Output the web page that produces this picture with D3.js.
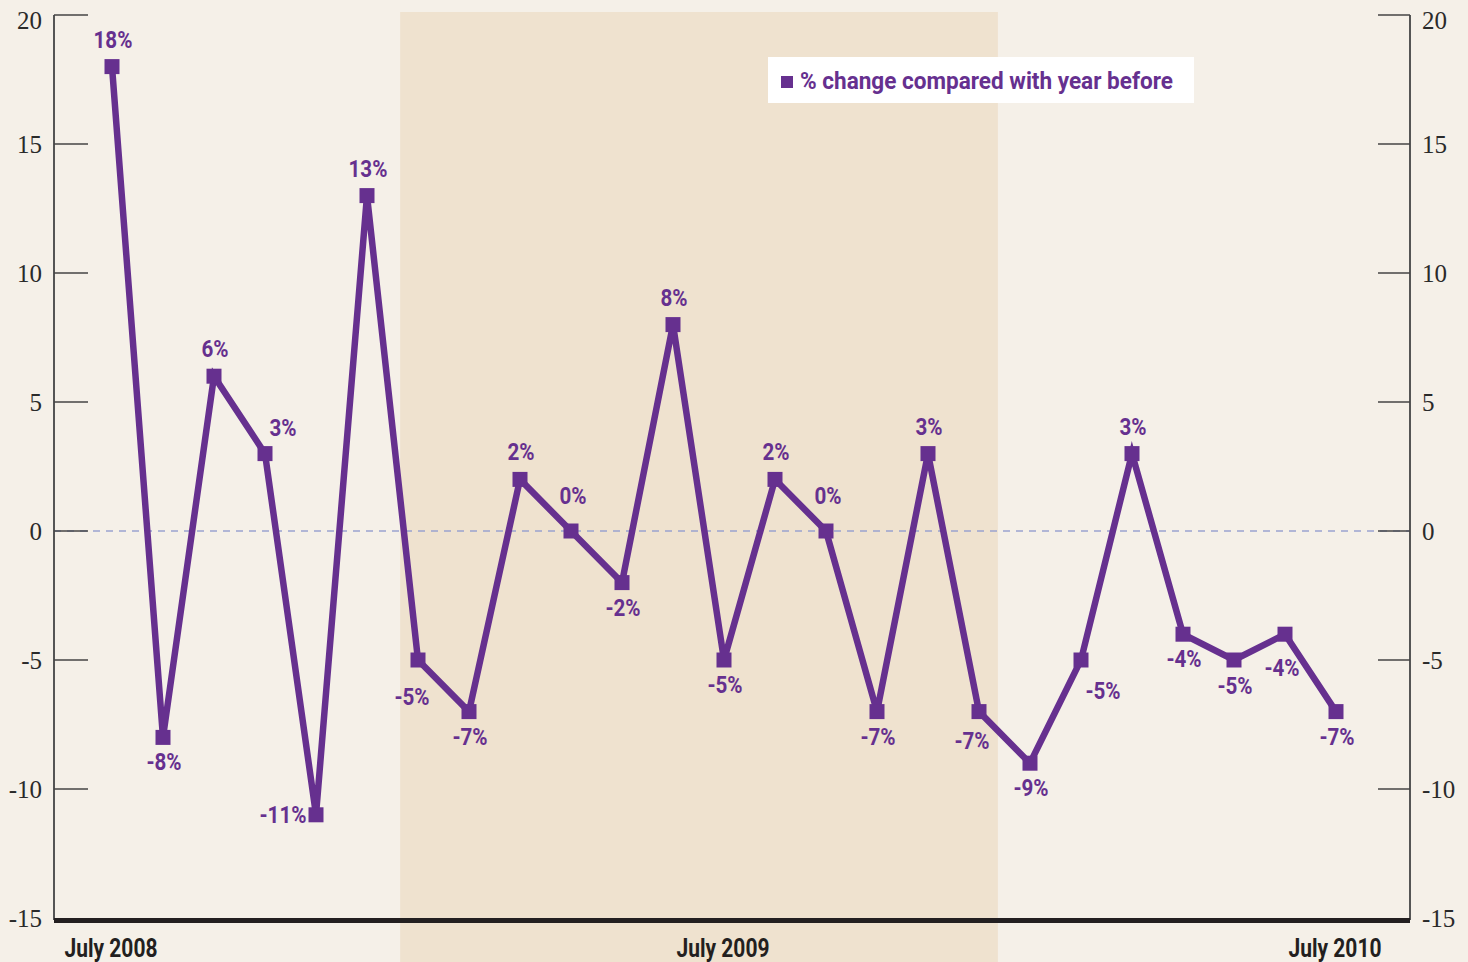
<!DOCTYPE html>
<html>
<head>
<meta charset="utf-8">
<script src="https://cdn.jsdelivr.net/npm/d3@7"></script>
<style>
  body { margin: 0; background: #f5f0e8; }
  svg { display: block; }
  .num { font-family: "Liberation Serif", "DejaVu Serif", serif; font-size: 25px; fill: #2a2a2a; }
  .lbl { font-family: "Roboto", "Liberation Sans", sans-serif; font-weight: bold; font-size: 24px; fill: #66308f; }
  .xl { font-family: "Roboto", "Liberation Sans", sans-serif; font-weight: bold; font-size: 25px; fill: #231f20; }
</style>
</head>
<body>
<div id="chart"></div>
<script>
// monthly % change vs year before, July 2008 .. July 2010
months = d3.range(25);
values = [18, -8, 6, 3, -11, 13, -5, -7, 2, 0, -2, 8, -5, 2, 0, -7, 3, -7, -9, -5, 3, -4, -5, -4, -7];
xLabels = [{i: 0, t: "July 2008"}, {i: 12, t: "July 2009"}, {i: 24, t: "July 2010"}];
yTicks = [20, 15, 10, 5, 0, -5, -10, -15];
shade = [5.65, 17.37]; // shaded period, in month index
legendText = "% change compared with year before";

var W = 1468, H = 962;
var purple = "#66308f";
var squeeze = 0.86; // condensed look for the sans labels

svg = d3.select("#chart").append("svg").attr("width", W).attr("height", H);
svg.append("rect").attr("width", W).attr("height", H).attr("fill", "#f5f0e8");

var x = d3.scaleLinear().domain([0, 24]).range([112, 1336]);
var y = d3.scaleLinear().domain([-15, 20]).range([918, 15]);
var left = 54, right = 1410;

// shaded band
svg.append("rect")
    .attr("x", x(shade[0])).attr("width", x(shade[1]) - x(shade[0]))
    .attr("y", 12).attr("height", H - 12)
    .attr("fill", "#efe2cf");

// zero line
svg.append("line")
    .attr("x1", left).attr("x2", right)
    .attr("y1", y(0)).attr("y2", y(0))
    .attr("stroke", "#9aa2cf").attr("stroke-width", 1.5)
    .attr("stroke-dasharray", "7,6");

// axes
g = svg.append("g");
g.append("line").attr("x1", left).attr("x2", left).attr("y1", y(20)).attr("y2", 920)
    .attr("stroke", "#555").attr("stroke-width", 2);
g.append("line").attr("x1", right).attr("x2", right).attr("y1", y(20)).attr("y2", 920)
    .attr("stroke", "#555").attr("stroke-width", 2);

yTicks.forEach(function(t) {
    if (t > -15) {
        g.append("line").attr("x1", left).attr("x2", left + 34).attr("y1", y(t)).attr("y2", y(t))
            .attr("stroke", "#444").attr("stroke-width", 1.5);
        g.append("line").attr("x1", right - 32).attr("x2", right).attr("y1", y(t)).attr("y2", y(t))
            .attr("stroke", "#444").attr("stroke-width", 1.5);
    }
    var dy = t == 20 ? 14 : 9;
    g.append("text").attr("class", "num").attr("x", 42).attr("y", y(t) + dy)
        .attr("text-anchor", "end").text(t);
    g.append("text").attr("class", "num").attr("x", 1422).attr("y", y(t) + dy)
        .attr("text-anchor", "start").text(t);
});

// bottom bar
svg.append("line").attr("x1", left).attr("x2", right).attr("y1", 920.5).attr("y2", 920.5)
    .attr("stroke", "#231f20").attr("stroke-width", 5);

xLabels.forEach(function(d) {
    svg.append("text").attr("class", "xl")
        .attr("transform", "translate(" + (x(d.i) - 1) + ",957) scale(0.84,1)")
        .attr("text-anchor", "middle").text(d.t);
});

// line + markers
var line = d3.line().x(function(d, i) { return x(i); }).y(function(d) { return y(d); });
svg.append("path").datum(values).attr("d", line)
    .attr("fill", "none").attr("stroke", purple).attr("stroke-width", 6.5)
    .attr("stroke-linejoin", "miter");

svg.selectAll(".pt").data(values).enter().append("rect")
    .attr("class", "pt")
    .attr("x", function(d, i) { return x(i) - 7.5; })
    .attr("y", function(d) { return y(d) - 7.5; })
    .attr("width", 15).attr("height", 15)
    .attr("fill", purple);

// label placement: [dx, dy] from point
var labelPos = {
    3: [17, -18], 4: [-34, 8], 6: [-7, 45], 9: [1, -27], 14: [1, -27], 17: [-8, 37],
    19: [21, 39], 22: [0, 34], 23: [-4, 42]
};
svg.selectAll(".lbl").data(values).enter().append("text")
    .attr("class", "lbl")
    .attr("text-anchor", "middle")
    .attr("transform", function(d, i) {
        var lx = x(i) + (labelPos[i] ? labelPos[i][0] : 0) + 1, ly;
        if (labelPos[i]) ly = y(d) + labelPos[i][1];
        else {
            var prev = i > 0 ? values[i - 1] : -Infinity;
            ly = d >= prev ? y(d) - 19 : y(d) + 33;
        }
        return "translate(" + lx + "," + ly + ") scale(" + squeeze + ",1)";
    })
    .text(function(d) { return d + "%"; });

// legend
var lg = svg.append("g");
lg.append("rect").attr("x", 768).attr("y", 57).attr("width", 426).attr("height", 46).attr("fill", "#ffffff");
lg.append("rect").attr("x", 781).attr("y", 76).attr("width", 12).attr("height", 12).attr("fill", purple);
lg.append("text").attr("class", "lbl")
    .attr("transform", "translate(800,89) scale(0.94,1)").text(legendText);
</script>
</body>
</html>
